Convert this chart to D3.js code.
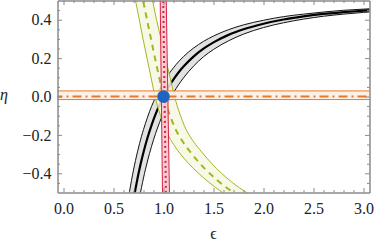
<!DOCTYPE html>
<html><head><meta charset="utf-8">
<script src="https://cdn.jsdelivr.net/npm/d3@7"></script>
<style>
html,body{margin:0;padding:0;background:#fff;}
svg{display:block;}
</style></head><body>
<script>
// ---- data ----
const xTicks = [0.0, 0.5, 1.0, 1.5, 2.0, 2.5, 3.0];
const xTickLabels = ["0.0","0.5","1.0","1.5","2.0","2.5","3.0"];
const yTicks = [-0.4, -0.2, 0.0, 0.2, 0.4];
const yTickLabels = ["\u22120.4","\u22120.2","0.0","0.2","0.4"];

// black band (function of epsilon)
const blackEps    = [0.64,0.66,0.68,0.70,0.72,0.74,0.76,0.78,0.80,0.84,0.88,0.92,0.96,1.00,1.05,1.10,1.15,1.20,1.30,1.40,1.50,1.65,1.80,2.00,2.20,2.40,2.60,2.80,3.00,3.10];
const blackEta    = [-0.748,-0.672,-0.602,-0.539,-0.481,-0.427,-0.378,-0.332,-0.290,-0.215,-0.150,-0.093,-0.044,0.000,0.048,0.089,0.125,0.156,0.208,0.249,0.282,0.321,0.350,0.379,0.401,0.417,0.430,0.439,0.447,0.451];
const blackEtaLow = [-0.960,-0.871,-0.790,-0.715,-0.647,-0.585,-0.527,-0.474,-0.424,-0.336,-0.260,-0.194,-0.136,-0.085,-0.029,0.019,0.061,0.097,0.158,0.207,0.245,0.290,0.325,0.359,0.384,0.403,0.418,0.429,0.438,0.442];
const blackEtaHigh= [-0.561,-0.496,-0.437,-0.383,-0.333,-0.288,-0.246,-0.207,-0.172,-0.108,-0.052,-0.004,0.038,0.075,0.115,0.150,0.181,0.208,0.252,0.287,0.315,0.348,0.373,0.397,0.416,0.429,0.440,0.449,0.455,0.458];

// olive band (epsilon as function of eta)
const oliveEta      = [0.55,0.5,0.4,0.3,0.2,0.1,0.0,-0.1,-0.2,-0.3,-0.4,-0.5,-0.55];
const oliveEps      = [0.772,0.795,0.835,0.875,0.915,0.957,1.0,1.065,1.15,1.285,1.46,1.70,1.86];
const oliveEpsLeft  = [0.70,0.72,0.758,0.795,0.835,0.875,0.915,0.97,1.045,1.17,1.35,1.59,1.74];
const oliveEpsRight = [0.87,0.89,0.93,0.975,1.02,1.065,1.11,1.17,1.255,1.40,1.58,1.83,2.00];

// red band (nearly vertical)
const redEta      = [0.55,-0.55];
const redEps      = [0.996,1.025];
const redEpsLeft  = [0.966,0.991];
const redEpsRight = [1.026,1.061];

// orange band (horizontal)
const orangeEps     = [-0.1,3.2];
const orangeEta     = [0.0,0.0];
const orangeEtaLow  = [-0.016,-0.016];
const orangeEtaHigh = [0.029,0.029];

// best-fit point
const pointEps = [1.0];
const pointEta = [0.0];

// ---- drawing ----
const W=374,H=243;
const L=57.5,R=369.5,T=0.5,B=192.5;
const FONT='"Liberation Serif","Times New Roman","DejaVu Serif",serif';
const x=d3.scaleLinear([-0.06,3.06],[L,R]);
const y=d3.scaleLinear([-0.5,0.5],[B,T]);

const svg=d3.select("body").append("svg").attr("width",W).attr("height",H);
svg.append("clipPath").attr("id","clip").append("rect")
  .attr("x",L).attr("y",T).attr("width",R-L).attr("height",B-T);
const g=svg.append("g").attr("clip-path","url(#clip)");

const idx=a=>a.map((_,i)=>i);

// black
const bI=idx(blackEps);
g.append("path").datum(bI).attr("fill","#e2e2e2")
  .attr("d",d3.area().x(i=>x(blackEps[i])).y0(i=>y(blackEtaLow[i])).y1(i=>y(blackEtaHigh[i])).curve(d3.curveMonotoneX));
[blackEtaLow,blackEtaHigh].forEach(arr=>{
  g.append("path").datum(bI).attr("fill","none").attr("stroke","#111").attr("stroke-width",1)
   .attr("d",d3.line().x(i=>x(blackEps[i])).y(i=>y(arr[i])).curve(d3.curveMonotoneX));
});
g.append("path").datum(bI).attr("fill","none").attr("stroke","#000").attr("stroke-width",2.2)
  .attr("d",d3.line().x(i=>x(blackEps[i])).y(i=>y(blackEta[i])).curve(d3.curveMonotoneX));

// olive
const oI=idx(oliveEta);
const oliveC="#a5b521";
g.append("path").datum(oI).attr("fill","#f6f8e2").attr("fill-opacity",0.85)
  .attr("d",d3.area().y(i=>y(oliveEta[i])).x0(i=>x(oliveEpsLeft[i])).x1(i=>x(oliveEpsRight[i])).curve(d3.curveMonotoneY));
[oliveEpsLeft,oliveEpsRight].forEach(arr=>{
  g.append("path").datum(oI).attr("fill","none").attr("stroke",oliveC).attr("stroke-width",1)
   .attr("d",d3.line().y(i=>y(oliveEta[i])).x(i=>x(arr[i])).curve(d3.curveMonotoneY));
});
g.append("path").datum(oI).attr("fill","none").attr("stroke",oliveC).attr("stroke-width",2)
  .attr("stroke-dasharray","6,5")
  .attr("d",d3.line().y(i=>y(oliveEta[i])).x(i=>x(oliveEps[i])).curve(d3.curveMonotoneY));

// red
const rI=idx(redEta);
const redC="#d8213f";
g.append("path").datum(rI).attr("fill","#f6c9d1").attr("fill-opacity",0.9)
  .attr("d",d3.area().y(i=>y(redEta[i])).x0(i=>x(redEpsLeft[i])).x1(i=>x(redEpsRight[i])));
[redEpsLeft,redEpsRight].forEach(arr=>{
  g.append("path").datum(rI).attr("fill","none").attr("stroke",redC).attr("stroke-width",1)
   .attr("d",d3.line().y(i=>y(redEta[i])).x(i=>x(arr[i])));
});
g.append("path").datum(rI).attr("fill","none").attr("stroke",redC).attr("stroke-width",2)
  .attr("stroke-dasharray","2,3")
  .attr("d",d3.line().y(i=>y(redEta[i])).x(i=>x(redEps[i])));

// orange
const orI=idx(orangeEps);
const orC="#e8792a";
g.append("path").datum(orI).attr("fill","#fdeee3").attr("fill-opacity",0.85)
  .attr("d",d3.area().x(i=>x(orangeEps[i])).y0(i=>y(orangeEtaLow[i])).y1(i=>y(orangeEtaHigh[i])));
[orangeEtaLow,orangeEtaHigh].forEach(arr=>{
  g.append("path").datum(orI).attr("fill","none").attr("stroke",orC).attr("stroke-width",1)
   .attr("d",d3.line().x(i=>x(orangeEps[i])).y(i=>y(arr[i])));
});
g.append("path").datum(orI).attr("fill","none").attr("stroke",orC).attr("stroke-width",2)
  .attr("stroke-dasharray","9,4,2,4")
  .attr("d",d3.line().x(i=>x(orangeEps[i])).y(i=>y(orangeEta[i])));

// point
g.selectAll("circle.pt").data(idx(pointEps)).join("circle").attr("class","pt")
  .attr("cx",i=>x(pointEps[i])).attr("cy",i=>y(pointEta[i])).attr("r",6.3).attr("fill","#1b66c4");

// ---- frame & ticks ----
const frameC="#8a8a8a";
const xMinor=d3.range(0,31).map(v=>v/10).filter(v=>Math.round(v*10)%5!==0);
const yMinor=d3.range(-10,11).map(v=>v/20).filter(v=>Math.round(v*20)%4!==0 && Math.abs(v)<0.5);
function styleAxis(sel){
  sel.attr("font-family",FONT).attr("font-size",16);
  sel.select(".domain").attr("stroke",frameC);
  sel.selectAll(".tick line").attr("stroke",frameC);
  sel.selectAll("text").style("font-family",FONT).style("font-size","16px").attr("fill","#222");
}
// bottom
svg.append("g").attr("transform",`translate(0,${B})`)
  .call(d3.axisBottom(x).tickValues(xTicks).tickFormat((d,i)=>xTickLabels[i]).tickSizeInner(-4.5).tickSizeOuter(0).tickPadding(10))
  .call(styleAxis);
svg.append("g").attr("transform",`translate(0,${B})`)
  .call(d3.axisBottom(x).tickValues(xMinor).tickFormat("").tickSizeInner(-2.5).tickSizeOuter(0))
  .call(styleAxis);
// top
svg.append("g").attr("transform",`translate(0,${T})`)
  .call(d3.axisTop(x).tickValues(xTicks).tickFormat("").tickSizeInner(-4.5).tickSizeOuter(0))
  .call(styleAxis);
svg.append("g").attr("transform",`translate(0,${T})`)
  .call(d3.axisTop(x).tickValues(xMinor).tickFormat("").tickSizeInner(-2.5).tickSizeOuter(0))
  .call(styleAxis);
// left
svg.append("g").attr("transform",`translate(${L},0)`)
  .call(d3.axisLeft(y).tickValues(yTicks).tickFormat((d,i)=>yTickLabels[i]).tickSizeInner(-4.5).tickSizeOuter(0).tickPadding(6))
  .call(styleAxis);
svg.append("g").attr("transform",`translate(${L},0)`)
  .call(d3.axisLeft(y).tickValues(yMinor).tickFormat("").tickSizeInner(-2.5).tickSizeOuter(0))
  .call(styleAxis);
// right
svg.append("g").attr("transform",`translate(${R},0)`)
  .call(d3.axisRight(y).tickValues(yTicks).tickFormat("").tickSizeInner(-4.5).tickSizeOuter(0))
  .call(styleAxis);
svg.append("g").attr("transform",`translate(${R},0)`)
  .call(d3.axisRight(y).tickValues(yMinor).tickFormat("").tickSizeInner(-2.5).tickSizeOuter(0))
  .call(styleAxis);

// axis titles
svg.append("text").attr("x",0).attr("y",100).style("font-family",FONT).style("font-size","16px").style("font-style","italic").attr("fill","#222").text("\u03B7");
svg.append("text").attr("x",(L+R)/2).attr("y",238.5).attr("text-anchor","middle").style("font-family",FONT).style("font-size","16px").attr("fill","#222").text("\u03F5");
</script>
</body></html>
